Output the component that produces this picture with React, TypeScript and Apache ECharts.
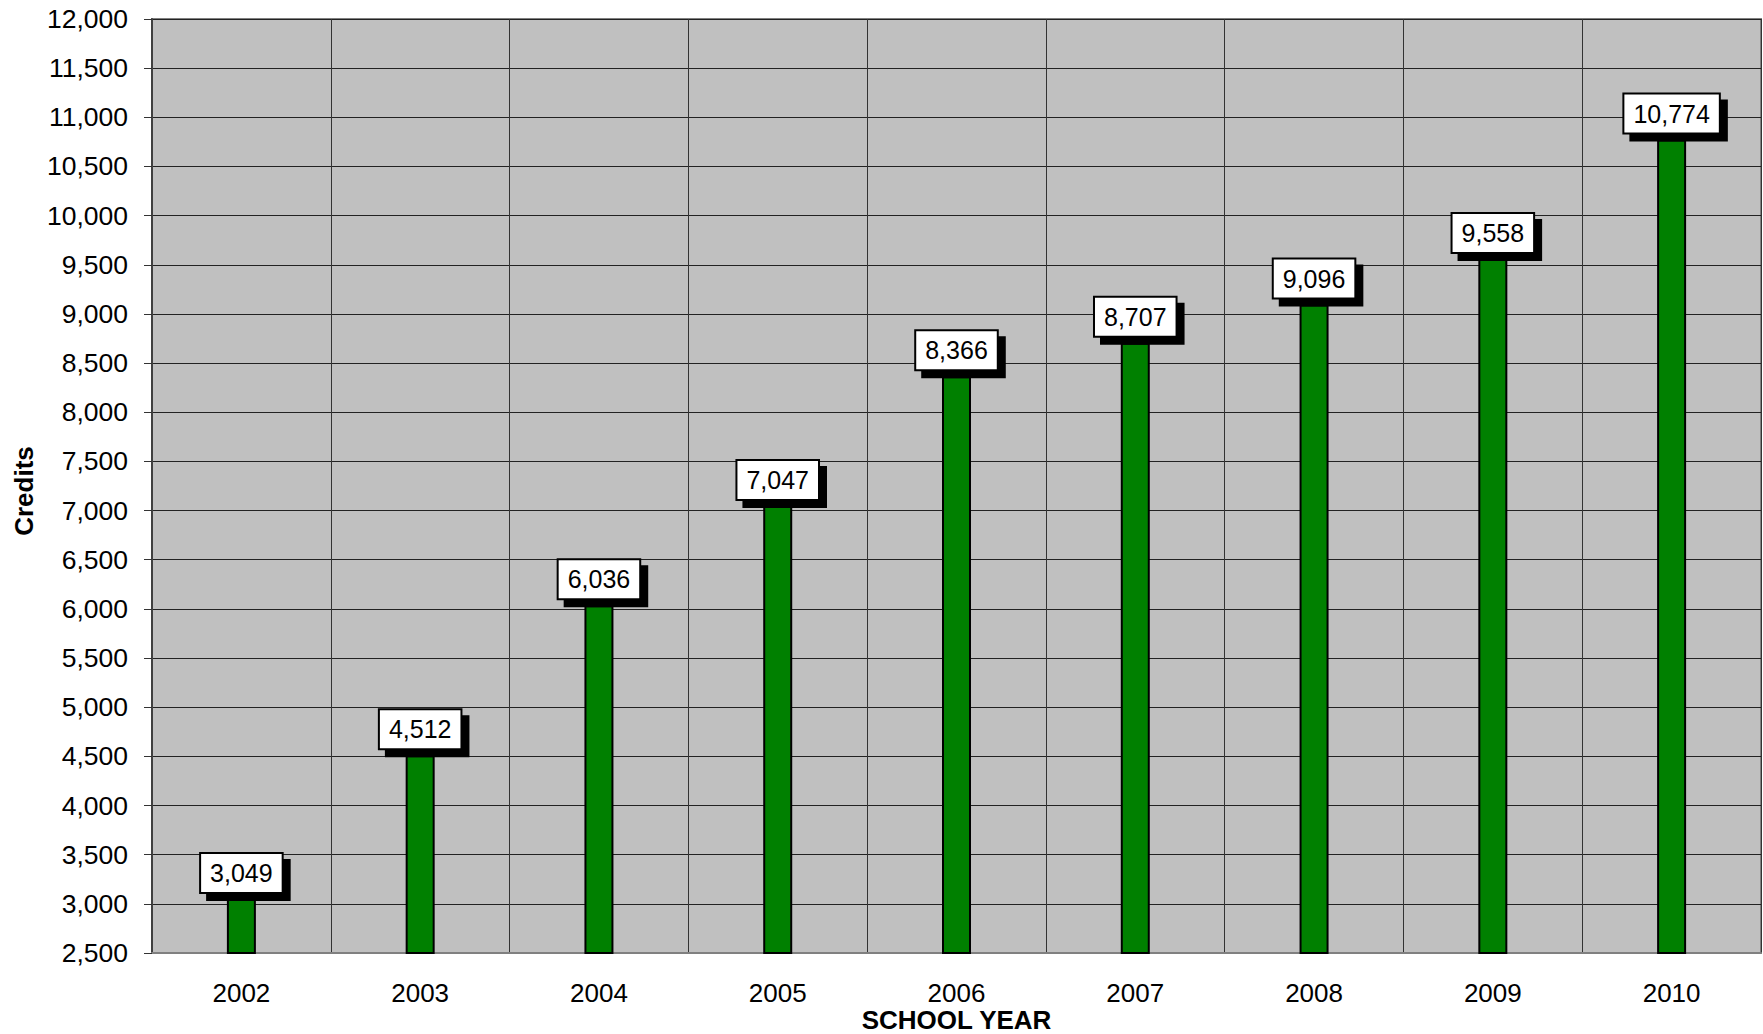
import React, { useEffect, useRef } from "react";
import * as echarts from "echarts";

const categories = ["2002", "2003", "2004", "2005", "2006", "2007", "2008", "2009", "2010"];
const credits = [3049, 4512, 6036, 7047, 8366, 8707, 9096, 9558, 10774];
const yMin = 2500;
const yMax = 12000;
const yStep = 500;

const FONT = "'Liberation Sans', Arial, sans-serif";
const fmt = (v: number) => v.toLocaleString("en-US");

export default function App() {
  const ref = useRef<HTMLDivElement>(null);
  useEffect(() => {
    if (!ref.current) return;
    const chart = echarts.init(ref.current, null, { renderer: "svg" });
    chart.setOption({
      animation: false,
      backgroundColor: "#ffffff",
      grid: {
        left: 152,
        right: 2,
        top: 19,
        bottom: 81,
        outerBoundsMode: "none",
        containLabel: false,
        show: true,
        backgroundColor: "#C0C0C0",
        borderColor: "#808080",
        borderWidth: 2,
      },
      xAxis: {
        type: "category",
        data: categories,
        name: "SCHOOL YEAR",
        nameLocation: "middle",
        nameGap: 54,
        nameMoveOverlap: false,
        nameTextStyle: {
          fontFamily: FONT,
          fontSize: 26,
          lineHeight: 26,
          fontWeight: "bold",
          color: "#000",
        },
        axisLine: { show: true, lineStyle: { color: "#808080", width: 2 } },
        axisTick: { show: false },
        axisLabel: { fontFamily: FONT, fontSize: 26, color: "#000", margin: 27 },
        splitLine: { show: true, lineStyle: { color: "#333333", width: 1 } },
      },
      yAxis: {
        type: "value",
        min: yMin,
        max: yMax,
        interval: yStep,
        name: "Credits",
        nameLocation: "middle",
        nameGap: 115,
        nameRotate: 90,
        nameMoveOverlap: false,
        nameTextStyle: {
          fontFamily: FONT,
          fontSize: 26,
          fontWeight: "bold",
          color: "#000",
          padding: [0, 10, 0, 0],
        },
        axisLine: { show: true, lineStyle: { color: "#404040", width: 2 } },
        axisTick: { show: true, length: 8, lineStyle: { color: "#333333", width: 1 } },
        axisLabel: {
          fontFamily: FONT,
          fontSize: 26.5,
          color: "#000",
          margin: 24,
          formatter: (v: number) => fmt(v),
        },
        splitLine: { show: true, lineStyle: { color: "#222222", width: 1 } },
      },
      series: [
        {
          type: "bar",
          data: credits,
          barWidth: 29,
          itemStyle: { color: "#008000", borderColor: "#000", borderWidth: 2 },
          label: {
            show: true,
            position: "top",
            distance: 7,
            formatter: (p: any) => fmt(p.value),
            fontFamily: FONT,
            fontSize: 25,
            lineHeight: 26,
            color: "#000",
            backgroundColor: "#ffffff",
            borderColor: "#000",
            borderWidth: 2,
            padding: [6, 9, 6, 9],
            shadowColor: "#000",
            shadowBlur: 0,
            shadowOffsetX: 7,
            shadowOffsetY: 7,
          },
        },
      ],
    });
    return () => chart.dispose();
  }, []);
  return (
    <div
      ref={ref}
      style={{ position: "fixed", left: 0, top: 0, width: 1763, height: 1034 }}
    />
  );
}
